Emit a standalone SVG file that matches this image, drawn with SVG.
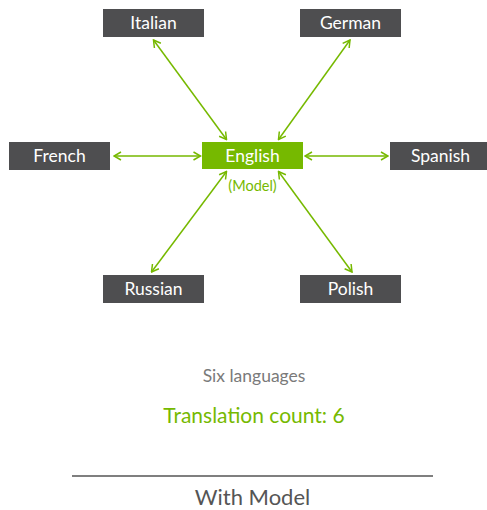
<svg xmlns="http://www.w3.org/2000/svg" width="487" height="510" viewBox="0 0 487 510">
<style>
.box{fill:#4e4e50}
.lbl{font-family:Lato,"Open Sans",sans-serif;font-size:17.5px;fill:#ffffff;text-anchor:middle}
.conn{stroke:#76b900;stroke-width:1.5;fill:none;marker-start:url(#ah);marker-end:url(#ah)}
.txt{font-family:Lato,"Open Sans",sans-serif;text-anchor:middle}
</style>
<defs>
<marker id="ah" viewBox="0 0 10 10" refX="9" refY="5" markerWidth="10" markerHeight="10" markerUnits="userSpaceOnUse" orient="auto-start-reverse">
<path d="M2,1 L9,5 L2,9" fill="none" stroke="#76b900" stroke-width="1.5"/>
</marker>
</defs>
<rect width="487" height="510" fill="#ffffff"/>
<g id="connectors">
<line class="conn" x1="153.5" y1="40" x2="226.5" y2="139.5"/>
<line class="conn" x1="350" y1="40" x2="278.5" y2="139.5"/>
<line class="conn" x1="114" y1="156" x2="200.5" y2="156"/>
<line class="conn" x1="305" y1="156" x2="388" y2="156"/>
<line class="conn" x1="226.5" y1="171.5" x2="151.5" y2="272"/>
<line class="conn" x1="278.5" y1="171.5" x2="352" y2="272"/>
</g>
<g id="italian"><rect class="box" x="103" y="9" width="101" height="28"/><text class="lbl" x="153.5" y="29">Italian</text></g>
<g id="german"><rect class="box" x="300" y="9" width="101" height="28"/><text class="lbl" x="350.5" y="29">German</text></g>
<g id="french"><rect class="box" x="9" y="142" width="101" height="28"/><text class="lbl" x="59.5" y="162">French</text></g>
<g id="english"><rect x="202" y="142" width="101" height="27" fill="#76b900"/><text class="lbl" x="252.5" y="162">English</text><text class="txt" x="252.5" y="191" font-size="14.5" fill="#76b900">(Model)</text></g>
<g id="spanish"><rect class="box" x="390" y="142" width="101" height="28"/><text class="lbl" x="440.5" y="162">Spanish</text></g>
<g id="russian"><rect class="box" x="103" y="275" width="101" height="28"/><text class="lbl" x="153.5" y="295">Russian</text></g>
<g id="polish"><rect class="box" x="300" y="275" width="101" height="28"/><text class="lbl" x="350.5" y="295">Polish</text></g>
<text class="txt" x="254" y="382" font-size="17.5" fill="#7a7a7a">Six languages</text>
<text class="txt" x="254" y="423" font-size="21" fill="#76b900">Translation count: 6</text>
<line x1="72" y1="476" x2="433" y2="476" stroke="#555555" stroke-width="1.5"/>
<text class="txt" x="252.5" y="505" font-size="22" fill="#555555">With Model</text>
</svg>
